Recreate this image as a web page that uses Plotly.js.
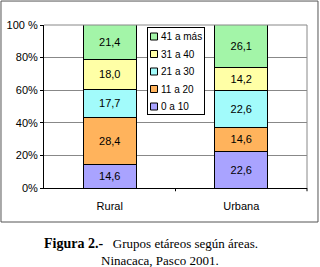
<!DOCTYPE html>
<html>
<head>
<meta charset="utf-8">
<script src="https://cdn.plot.ly/plotly-3.0.1.min.js"></script>
<style>html,body{margin:0;padding:0;background:#fff;}#chart{width:320px;height:267px;}</style>
</head>
<body>
<div id="chart"></div>
<script>
const categories = ["Rural", "Urbana"];
const seriesNames = ["0 a 10", "11 a 20", "21 a 30", "31 a 40", "41 a más"];
const values0a10 = [14.6, 22.6];
const values11a20 = [28.4, 14.6];
const values21a30 = [17.7, 22.6];
const values31a40 = [18.0, 14.2];
const values41mas = [21.4, 26.1];
const yTickVals = [0, 20, 40, 60, 80, 100];
const yTickText = ["0%", "20%", "40%", "60%", "80%", "100 %"];
const colors = ["#a9a3ff", "#ffb35c", "#a2fbfb", "#ffffa6", "#a3f5a8"];

const seriesValues = [values0a10, values11a20, values21a30, values31a40, values41mas];
const traces = seriesValues.map((v, i) => ({
  type: "bar",
  name: seriesNames[i],
  x: categories,
  y: v,
  marker: {color: colors[i], line: {color: "#000", width: 1}},
  texttemplate: "%{y:.1f}",
  textposition: "inside",
  insidetextanchor: "middle",
  textangle: 0,
  constraintext: "none",
  textfont: {family: "Liberation Sans, Arial, sans-serif", size: 11, color: "#000"},
  hoverinfo: "none"
}));

const layout = {
  width: 320, height: 267,
  margin: {l: 44, r: 13, t: 25, b: 79},
  paper_bgcolor: "#fff", plot_bgcolor: "#fff",
  separators: ",.",
  barmode: "stack",
  bargap: 0.6,
  showlegend: true,
  font: {family: "Liberation Sans, Arial, sans-serif", size: 11, color: "#000"},
  xaxis: {
    type: "category",
    showline: true, linecolor: "#000", linewidth: 1,
    ticks: "", showgrid: false, ticklabelstandoff: 8,
    tickfont: {size: 11}, mirror: false
  },
  yaxis: {
    range: [0, 100],
    tickvals: yTickVals, ticktext: yTickText,
    showline: true, linecolor: "#000", linewidth: 1,
    ticks: "outside", ticklen: 3, tickcolor: "#000",
    showgrid: true, gridcolor: "#888", gridwidth: 1,
    zeroline: false, tickfont: {size: 11}
  },
  legend: {
    x: (147 - 44) / 263, y: (188 - 27) / 163, xanchor: "left", yanchor: "top",
    traceorder: "reversed",
    bgcolor: "#fff", bordercolor: "#000", borderwidth: 1,
    font: {size: 10}, itemwidth: 30
  },
  shapes: [
    {type: "rect", xref: "paper", yref: "paper", x0: -0.1635, x1: 1.0418, y0: -0.2086, y1: 1.147,
     line: {color: "#555", width: 1}, fillcolor: "rgba(0,0,0,0)"},
    {type: "line", xref: "paper", yref: "paper", x0: 0, x1: 1, y0: 1, y1: 1, line: {color: "#888", width: 1}},
    {type: "line", xref: "paper", yref: "paper", x0: 1, x1: 1, y0: 0, y1: 1, line: {color: "#888", width: 1}},
    {type: "line", xref: "paper", yref: "paper", x0: 0.5, x1: 0.5, y0: 0, y1: -0.02, line: {color: "#000", width: 1}},
    {type: "line", xref: "paper", yref: "paper", x0: 1, x1: 1, y0: 0, y1: -0.02, line: {color: "#000", width: 1}}
  ],
  annotations: [
    {xref: "paper", yref: "paper", x: (151 - 44) / 263, y: (188 - 243) / 163, xanchor: "center", yanchor: "middle",
     showarrow: false, text: "<b><span style='font-size:14px'>Figura 2.-</span></b>&nbsp;&nbsp;&nbsp;Grupos etáreos según áreas.",
     font: {family: "Liberation Serif, Times New Roman, serif", size: 13, color: "#000"}},
    {xref: "paper", yref: "paper", x: (160 - 44) / 263, y: (188 - 260) / 163, xanchor: "center", yanchor: "middle",
     showarrow: false, text: "Ninacaca, Pasco 2001.",
     font: {family: "Liberation Serif, Times New Roman, serif", size: 13, color: "#000"}}
  ]
};

Plotly.newPlot("chart", traces, layout, {displayModeBar: false, staticPlot: true}).then(gd => {
  // compact the legend to match the reference box
  const leg = gd.querySelector(".legend");
  if (!leg) return;
  const items = leg.querySelectorAll(".traces");
  items.forEach((g, i) => {
    g.setAttribute("transform", "translate(0," + (9.5 + i * 17.5) + ")");
    g.querySelectorAll(".legendpoints path").forEach(p => {
      p.setAttribute("d", "M3.5,3.5H-3.5V-3.5H3.5Z");
      p.setAttribute("transform", "translate(7,0)");
    });
    const t = g.querySelector("text.legendtext");
    if (t) t.setAttribute("x", 14);
  });
  const bg = leg.querySelector("rect.bg");
  if (bg) { bg.setAttribute("width", 57); bg.setAttribute("height", 87); }
});
</script>
</body>
</html>
